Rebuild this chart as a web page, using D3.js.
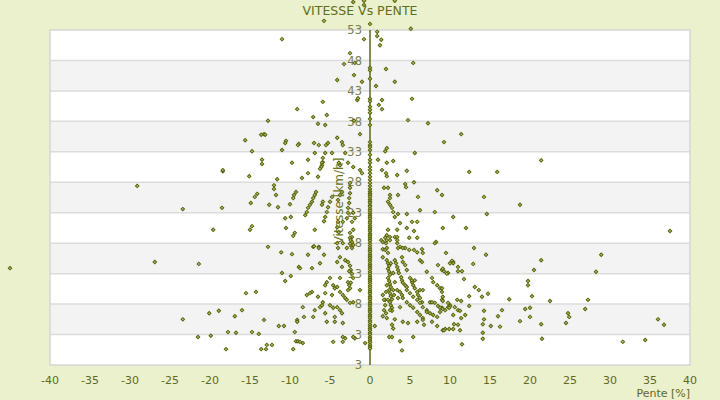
<!DOCTYPE html>
<html><head><meta charset="utf-8">
<script src="https://cdn.jsdelivr.net/npm/d3@7"></script>
<style>
html,body{margin:0;padding:0;background:#ebf0cd;}
svg{display:block;}
</style></head><body>
<svg id="c" width="720" height="400"></svg>
<script>
const titre = "VITESSE Vs PENTE";
const titreX = "Pente [%]";
const titreY = "Vitesse [km/h]";
const xTicks = [-40,-35,-30,-25,-20,-15,-10,-5,0,5,10,15,20,25,30,35,40];
const yTicks = [-2,3,8,13,18,23,28,33,38,43,48,53];
const yTickLabels = ["3","3","8","13","18","23","28","33","38","43","48","53"];

// points on pente = 0 (vitesse values)
const vitesseAxe = [54.0,46.8,46.4,45.0,41.7,41.3,40.4,39.9,39.4,38.4,37.4,34.6,34.1,33.8,33.3,32.5,31.7,31.2,30.5,30.0,29.5,28.9,28.4,27.9,27.4,26.9,26.5,26.2,25.9,25.6,
25.2,24.9,24.6,24.2,24.0,23.6,23.3,22.9,22.6,22.3,22.0,21.6,21.3,20.9,20.6,20.3,20.0,19.6,19.3,19.0,18.7,18.4,18.0,17.6,17.2,16.9,16.6,16.2,15.9,15.6,15.3,15.0,14.6,14.3,14.0,13.7,13.3,13.0,12.6,12.3,12.0,11.7,11.4,11.0,10.7,10.3,10.0,9.7,9.3,9.0,8.7,8.3,8.0,7.7,7.3,7.0,6.7,6.3,6.0,5.7,5.3,5.0,4.6,4.3,4.0,3.7,3.3,3.0,2.6,2.3,2.0,1.7,1.3,1.0,0.7];

// points above the chart and in the upper part
const pointsHaut = [[-2.1,57.6],[-0.75,57.8],[-0.75,57.1],[3.1,57.8],[-5.75,54.5],[5.1,53.2],[-11,51.5],[-0.75,51.5],[0.9,52.7],[0.9,52.0],[1.4,51.4],[1.25,50.5],[-2.5,49.2],[-3.25,47.4],[-1.9,47.6],[5.4,47.6],[2,46.6],[-2,45.6],[-4.1,44.8],[-1,44.5],[3.1,44.5],[0.75,43.8],[-1.6,41.5],[-1.5,41.8],[1.5,41.5],[5.25,41.7],[-5.9,41.2],[1.1,40.7],[1.5,40.0],[-9.1,40.0],[-5.4,39.05],[-7.1,38.7],[-12.75,38.1],[4.75,38.2],[7.25,37.7],[-6.5,37.6],[-5.6,37.4],[-2,38.1],[-1.25,35.9],[-13.25,35.9]];

// negative slope
const pointsGauche = [[-45,13.9],[-29.1,27.4],[-23.4,23.6],[-26.9,14.9],[-21.4,14.6],[-23.4,5.5],[-19.6,20.2],[-18.4,29.8],[-18.5,23.8],[-21.5,2.6],[-20.1,6.5],[-18.9,6.9],[-16.9,6.0],[-16,7.0],[-13.25,5.4],[-9.1,5.4],[-9.1,5.1],[-11.4,4.4],[-10.75,4.4],[-9.4,3.4],[-14.75,3.4],[-13.9,3.1],[-17.75,3.4],[-16.75,3.3],[-19.9,2.8],[-18,0.6],[-13.6,0.6],[-13,0.6],[-12.9,1.3],[-12.25,1.3],[-9.6,0.6],[-9.25,1.9],[-9,1.9],[-8.75,1.8],
[-12.75,17.4],[-11.1,16.5],[-9.75,16.2],[-8.9,14.1],[-11,13.1],[-9.9,12.6],[-10.6,11.8],[-15.5,9.8],[-14.25,10.0],
[-13.6,35.8],[-13.1,35.8],[-15.6,34.9],[-10.5,34.8],[-10.6,34.45],[-8.9,34.3],[-14.75,33.1],[-11,33.3],[-13.5,31.7],[-13.5,31.0],[-9.75,31.2],[-18.4,30.0],[-15.1,29.0],[-11.6,28.5],[-12,27.5],[-12,26.9],[-11.75,25.9],[-14.1,26.1],[-14.4,25.6],[-9.25,26.4],[-9.5,25.9],[-9.6,25.4],[-14.9,24.6],[-12.6,24.3],[-11.5,23.9],[-10,24.4],[-9.9,22.3],[-14.75,20.8],[-15,20.2],[-10.5,20.5],[-9.4,19.7],[-9.6,19.2],
[-9,34.1],[-7.75,29.5],[-8.5,28.7],[-10.6,22.1],[-7.1,17.4],[-6.4,17.4],
[-7,34.45],[-6.4,34.1],[-5.5,34.1],[-5.25,34.45],[-4.1,35.3],[-3.5,34.6],[-3.4,34.1],[-6.9,32.8],[-4.75,32.8],[-3.1,32.8],[-7.75,31.7],[-5.9,31.3],[-6,31.2],[-6,30.8],[-6.1,30.5],[-6.25,30.2],[-3.75,30.8],[-3.9,31.2],[-2.75,31.2],[-2.1,30.5],[-1.25,30.0],[-1,29.5],[-5.6,32.8],[-5.9,32.0],[-6.5,28.9],
[-6.75,26.4],[-6.9,25.9],[-7.1,25.4],[-7.25,24.8],[-7.5,24.3],[-7.75,23.8],[-7.9,23.1],[-8.1,22.6],[-5.9,24.8],[-6,24.3],[-4.75,25.6],[-5,24.8],[-5.25,23.9],[-5.4,23.1],[-5.6,22.3],[-5.75,21.6],[-3.5,26.4],[-3.75,25.9],[-4,25.1],
[-2.5,27.9],[-2.5,27.1],[-2.5,26.2],[-2.6,25.4],[-2.6,24.6],[-2.75,23.8],[-2.75,23.0],[-2.9,22.1],[-2.1,23.0],[-1.9,22.1],[-2.25,21.5],[-2.1,20.2],[-2.5,19.7],[-2.25,19.0],[-4,21.5],[-4.1,20.6],[-3.9,19.8],[-6.9,20.2],[-3.4,21.5],
[-7,17.5],[-6.4,17.2],[-7.75,16.1],[-5.75,16.1],[-4.1,18.0],[-3.4,18.0],[-4,17.2],[-2.9,17.2],[-2.5,18.9],[-2.4,18.5],[-2.25,18.2],[-2.1,17.7],[-2.25,17.2],[-2.5,17.9],[-3.75,15.7],[-3.1,15.2],[-4.1,14.9],[-3.5,14.1],[-7.25,13.9],[-6.25,14.7],
[-2.75,14.9],[-2.5,14.3],[-2.4,13.6],[-2.25,13.0],[-2.1,12.3],[-2.6,13.4],[-8.75,13.9],[-5,12.3],[-3.75,12.3],[-5.6,11.1],[-5.4,11.6],[-4.6,11.1],[-4.4,10.6],[-4.1,10.8],[-2.75,11.6],[-2.6,11.1],[-2.5,10.6],[-2.75,10.3],[-2.4,11.5],[-1.25,10.3],
[-7.9,9.5],[-7.25,10.0],[-7.5,9.8],[-6.5,9.2],[-5.6,9.8],[-4.75,9.5],[-3.75,10.0],[-3.4,9.5],[-3.1,9.0],[-2.9,8.7],[-2.5,8.2],[-2.1,8.3],[-5.9,8.3],[-6,7.8],[-6.25,7.5],[-5,7.8],[-4.6,7.4],[-3.75,7.0],[-3.5,6.5],[-4.1,7.5],[-8.4,7.5],[-6.9,7.0],[-5.6,6.5],[-7.1,5.9],[-8.25,5.9],[-4.4,5.9],[-3.4,4.9],[-4.4,5.1],[-5.4,5.1],
[-4.6,1.8],[-3.4,1.8],[-1.9,2.4],[-0.6,1.6],[-8.4,1.6],[-3.1,2.4],[-3.4,2.6],[-2.1,2.6]];

// positive slope
const pointsDroite = [[1,31.7],[2.1,31.2],[2.9,31.5],[1.5,30.0],[2,29.5],[2.1,29.0],[3.4,29.2],[4.6,29.9],[5.6,32.8],[9.25,34.6],[1.9,33.1],[2.1,33.6],[4.4,27.7],[4.5,27.2],[5.5,28.0],[1.75,27.1],[2.25,27.1],[3.5,25.9],[2.5,25.9],[2.5,25.4],[2.25,24.8],[2.5,24.3],[2.75,23.8],[2.9,23.1],[3.1,22.3],[6,25.6],[8.4,26.7],[9,25.9],[10.4,22.3],[8.1,23.1],[6.25,23.4],[3.5,22.8],[4.6,22.8],[5.25,21.5],[5.9,21.5],[4.6,20.5],[5.5,20.0],[5.9,18.9],[9.1,20.5],[3.75,21.3],[3.4,20.2],[3.1,19.0],[3.4,18.0],[2.25,20.2],[2.1,19.3],[2.1,18.5],[3.75,17.4],[4.4,17.2],[6.5,17.0],
[11.4,35.9],[21.4,31.6],[12.4,29.7],[15.9,29.7],[14.25,25.6],[14.6,22.8],[18.75,24.3],[12,20.5],[37.5,20.0],
[1.4,18.5],[1.6,18.2],[1.9,18.9],[2,18.0],[2.5,19.0],[2.5,18.5],[3.4,19.0],[3.4,18.5],[4.9,18.9],[8.25,18.2],[9.5,16.4],[1.6,17.0],[1.9,16.9],[2.1,17.2],[3.5,17.2],[4.1,17.2],[4.9,16.9],[5.5,16.9],[5.9,16.5],[6.6,16.4],[6.25,15.2],[6.5,14.9],[1.6,15.7],
[2.1,15.2],[2.25,14.7],[2.4,14.3],[2.25,13.8],[2.4,13.3],[2.5,12.8],[2.25,12.3],[2.4,11.8],[2.5,11.3],[2.6,10.8],[2.4,10.3],[2.5,9.8],[2.6,9.3],[2.75,8.8],[2.5,8.3],[2.6,7.8],[2.75,7.4],[2.75,6.9],[2.1,11.1],[2,10.0],[2.9,10.3],[3,9.5],[1.9,8.7],[2.25,8.7],[2.5,7.0],
[1.6,9.5],[1.75,8.7],[1.9,7.8],[1.75,7.0],[2,6.5],[1.6,6.0],
[2.25,16.4],[2.6,14.7],[2.9,13.1],[3.1,11.6],[3.4,10.3],[3.5,9.0],[3.75,7.5],
[3.1,15.2],[3.25,14.7],[3.4,14.1],[3.5,13.6],[3.6,13.1],[3.9,12.4],[4,11.9],[4.1,11.5],[4.4,11.1],
[4,15.7],[4.1,14.9],[4.4,14.4],[4.6,13.6],
[5,12.3],[5.25,11.6],[5.4,11.1],[5.6,10.6],[5.9,10.0],[6,9.5],[6.25,9.0],[6.5,8.3],
[3.75,10.0],[4,9.5],[4.1,9.0],[4.6,8.3],[5,7.8],[5.4,7.4],[5.9,6.7],[6.25,6.2],[6.6,5.7],
[4.6,10.3],[5,9.8],[5.4,9.2],[5.9,8.7],[6.25,8.2],[6.6,7.5],[7.1,7.0],[7.5,6.5],[7.9,6.2],[8.4,5.9],
[8.1,8.2],[8.5,7.7],[9,7.4],[9.4,7.0],
[7.75,12.3],[7.9,11.6],[8.4,11.1],[8.75,10.6],[9,10.0],
[8.5,14.4],[9,13.6],[9.75,13.1],[7.1,13.3],
[4.6,10.8],[7.1,6.7],[5.25,11.9],[6.25,10.3],[7.5,8.3],[8.75,6.7],[5.6,11.9],[6.6,10.3],[7.75,8.3],[9.1,9.2],[10,7.8],
[2.1,5.7],[2.75,4.6],[2.9,4.0],[0.6,4.4],[2.4,2.6],[2.75,2.6],[3.75,1.9],[4,0.4],[5.4,2.6],[4.75,4.9],[5.9,5.1],[6.6,5.4],[4.1,5.1],[3.1,5.5],[6.75,4.6],[7.75,5.1],[8.4,4.4],[9.1,3.7],[9.4,3.9],[10.4,3.9],[8.1,18.0],[10.4,14.9],[10.6,7.5],[10.9,8.7],[9.75,8.2],
[13,17.2],[14.5,16.1],[10.25,15.1],[10.4,14.7],[10,14.7],[12.9,14.6],[11,14.1],[11,13.4],[11.5,13.4],[9.1,13.8],[9.25,13.4],[9.6,13.0],[11.75,12.1],[9,10.6],[13.1,10.8],[13.6,10.3],[14,9.2],[14.75,9.7],[12.4,9.3],[9,8.7],[9.1,8.5],[11.4,8.5],[9.75,7.5],[10,7.7],[9.9,7.4],[8.75,7.4],[9.1,7.2],[11,7.0],[11.25,6.9],[12.4,7.7],[10.4,6.2],[11.9,6.2],[11.4,5.7],[14.25,6.9],[14.25,5.5],[14.1,4.7],[15.1,4.4],[16.25,4.3],[16.5,7.0],[16,6.0],[10.5,4.7],[11,4.6],[9.25,3.7],[9.9,3.9],[11.25,3.7],[14.1,3.3],[14.1,2.3],[11.5,1.4],
[17.4,8.8],[18.75,5.2],[19.4,7.2],[20,7.4],[20,5.9],[19.75,11.8],[19.75,11.1],[20.25,9.3],[20.5,13.6],[21.4,15.2],[21.4,4.7],[21.5,2.3],[22.5,8.5],[24.75,6.5],[24.9,5.9],[24.5,4.9],[26.9,7.2],[27.25,8.7],[28.25,13.3],[28.9,16.1],[31.6,1.8],[34.4,2.1],[36,5.5],[36.75,4.6]];

const points = [].concat(
  vitesseAxe.map(v => [0, v]),
  pointsHaut, pointsGauche, pointsDroite
);

const svg = d3.select("#c");
const x = d3.scaleLinear().domain([-40, 40]).range([50, 690]);
const y = d3.scaleLinear().domain([-2, 53]).range([365, 30]);

// plot background with alternating bands
const bands = d3.range(yTicks.length - 1).map(i => ({lo: yTicks[i], hi: yTicks[i+1], grey: i % 2 === 1}));
svg.append("g").selectAll("rect").data(bands).join("rect")
  .attr("x", x(-40)).attr("width", x(40) - x(-40))
  .attr("y", d => y(d.hi)).attr("height", d => y(d.lo) - y(d.hi))
  .attr("fill", d => d.grey ? "#f3f3f3" : "#ffffff");
svg.append("g").selectAll("line").data(yTicks.slice(1, -1)).join("line")
  .attr("x1", x(-40)).attr("x2", x(40))
  .attr("y1", d => y(d)).attr("y2", d => y(d))
  .attr("stroke", "#dcdcdc").attr("stroke-width", 1.5);
svg.append("rect")
  .attr("x", x(-40)).attr("y", y(53)).attr("width", x(40) - x(-40)).attr("height", y(-2) - y(53))
  .attr("fill", "none").attr("stroke", "#d6d6d6").attr("stroke-width", 1.5);

// y axis at pente 0
svg.append("line")
  .attr("x1", x(0)).attr("x2", x(0)).attr("y1", y(53)).attr("y2", y(-2))
  .attr("stroke", "#5b6a14").attr("stroke-width", 1.5);

// y tick labels
svg.append("g").selectAll("text").data(yTicks).join("text")
  .attr("x", x(0) - 8).attr("y", d => y(d)).attr("dy", "0.36em")
  .attr("text-anchor", "end")
  .attr("font-family", "DejaVu Sans").attr("font-size", 11.5)
  .attr("fill", "#7c7c48")
  .text((d, i) => yTickLabels[i]);

// x tick labels
svg.append("g").selectAll("text").data(xTicks).join("text")
  .attr("x", d => x(d)).attr("y", 383.5)
  .attr("text-anchor", "middle")
  .attr("font-family", "DejaVu Sans").attr("font-size", 11)
  .attr("fill", "#5e6a1e")
  .text(d => d);

svg.append("text").attr("x", x(40)).attr("y", 397)
  .attr("text-anchor", "end").attr("font-family", "DejaVu Sans").attr("font-size", 11)
  .attr("fill", "#5e6a1e").text(titreX);

svg.append("text").attr("transform", `translate(${x(0) - 27},201) rotate(-90)`)
  .attr("text-anchor", "middle").attr("font-family", "DejaVu Sans").attr("font-size", 12)
  .attr("fill", "#6b7322").text(titreY);

svg.append("text").attr("x", 360).attr("y", 14.5)
  .attr("text-anchor", "middle").attr("font-family", "DejaVu Sans").attr("font-size", 12.5)
  .attr("fill", "#5f6e1c").text(titre);

// markers
const sym = d3.symbol(d3.symbolSquare, 6);
svg.append("g").selectAll("path").data(points).join("path")
  .attr("d", sym)
  .attr("transform", d => `translate(${x(d[0])},${y(d[1])}) rotate(45)`)
  .attr("fill", "#c4cc6a").attr("stroke", "#56620e").attr("stroke-width", 1);
</script>
</body></html>
